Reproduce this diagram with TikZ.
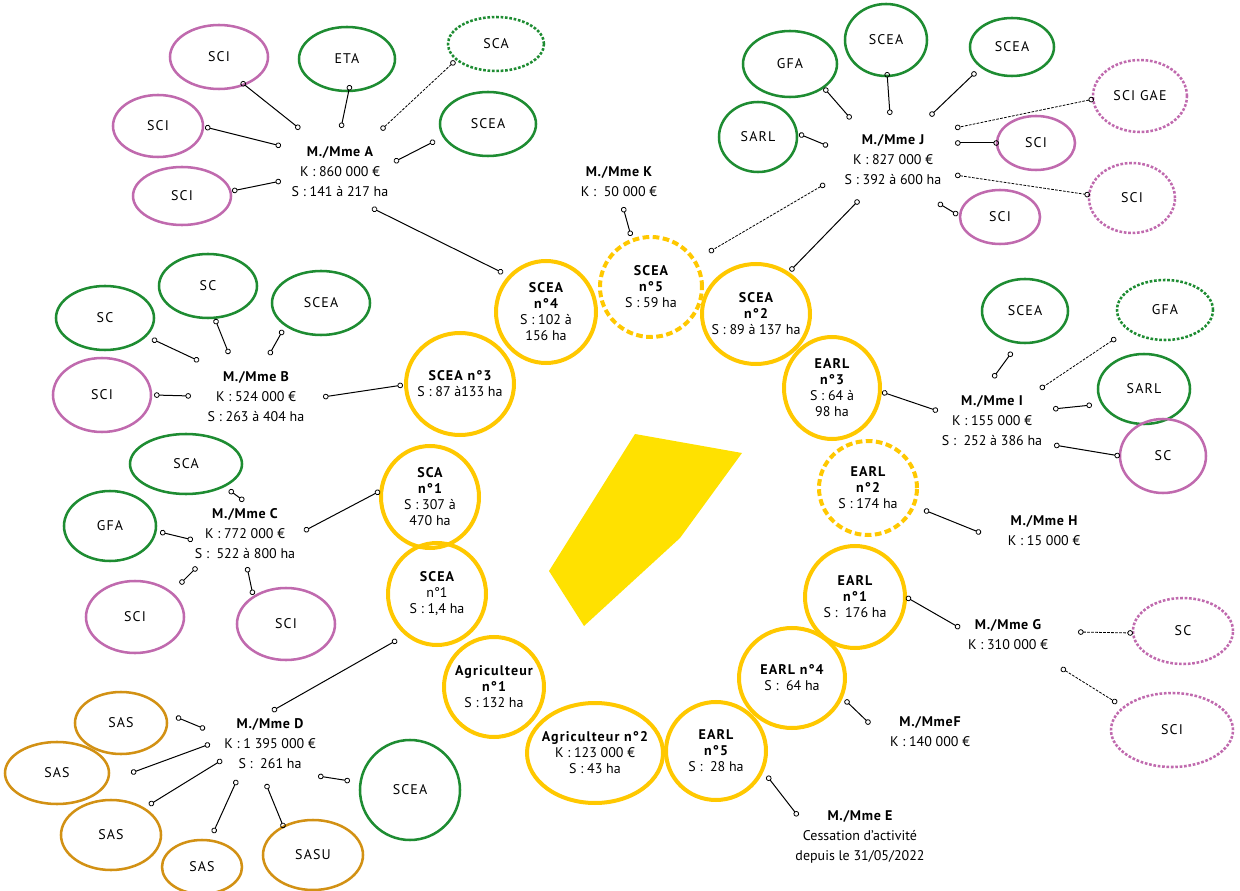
\documentclass[tikz,border=0pt]{standalone}
\usepackage{fontspec}
\setmainfont{PT Sans}
\newfontfamily\lsp[LetterSpace=8]{PT Sans}
\newfontfamily\lspn[LetterSpace=5]{PT Sans}
\usetikzlibrary{shapes.geometric,arrows.meta}
\definecolor{pur}{HTML}{C06AAE}
\definecolor{grn}{HTML}{1E8C32}
\definecolor{och}{HTML}{D29114}
\definecolor{ring}{HTML}{FFC800}
\definecolor{fillyel}{HTML}{FFE100}
\tikzset{
  ent/.style={ellipse, draw, line width=1.9pt, inner xsep=-40pt, inner ysep=-30pt, font=\fontsize{10.5}{12}\lsp},
  entpur/.style={ent, draw=pur},
  entgrn/.style={ent, draw=grn},
  entoch/.style={ent, draw=och},
  dotd/.style={dash pattern=on 2pt off 1.3pt},
  farm/.style={ellipse, draw=ring, line width=3pt, inner xsep=-40pt, inner ysep=-30pt, align=center, font=\fontsize{10.5}{12}\selectfont},
  farmd/.style={farm, dash pattern=on 5pt off 2.6pt},
  owner/.style={align=center, font=\fontsize{10.5}{15}\selectfont, inner sep=0pt},
  conn/.style={line width=0.75pt, {Circle[open,length=4.2pt,width=4.2pt,line width=0.6pt]}-{Circle[open,length=4.2pt,width=4.2pt,line width=0.6pt]}},
  connd/.style={line width=0.6pt, dash pattern=on 2pt off 1pt},
}
\newcommand\ent[7]{\node[#6,minimum width={1.5pt*#4},minimum height={1.5pt*#5}] (#1) at (#2,#3) {#7};}
\newcommand\lnk[4][]{\coordinate (#2s) at (#3); \coordinate (#2e) at (#4); \draw[conn,#1] (#2s) -- (#2e);}
\newcommand\hd[1]{{\lsp\bfseries #1}}
\newcommand\on[1]{{\lspn\bfseries #1}}
\begin{document}
\begin{tikzpicture}[x=0.75pt,y=-0.75pt]
\useasboundingbox (0,0) rectangle (1240,891);
% central parcel
\fill[fillyel] (635,434) -- (742,453) -- (680,538) -- (584,626) -- (549,571) -- cycle;

% farms (yellow rings)
\ent{scea4}{546}{312}{50}{51}{farm}{\hd{SCEA}\\\hd{n°4}\\S : 102 à\\156 ha}
\ent{scea5}{651}{287}{51}{50}{farmd}{\hd{SCEA}\\\hd{n°5}\\S : 59 ha}
\ent{scea2}{756}{314}{54}{50}{farm}{\hd{SCEA}\\\hd{n°2}\\S : 89 à 137 ha}
\ent{earl3}{832}{388}{48}{51}{farm}{\hd{EARL}\\\hd{n°3}\\S : 64 à\\98 ha}
\ent{earl2}{868}{488}{49}{47}{farmd}{\hd{EARL}\\\hd{n°2}\\S : 174 ha}
\ent{earl1}{855}{597}{50}{51}{farm}{\hd{EARL}\\\hd{n°1}\\S :\ \ 176 ha}
\ent{earl4}{792}{678}{53}{50}{farm}{\hd{EARL n°4}\\S :\ \ 64 ha}
\ent{earl5}{716}{751}{50}{49}{farm}{\hd{EARL}\\\hd{n°5}\\S :\ \ 28 ha}
\ent{agri2}{595}{753}{68}{50}{farm}{\hd{Agriculteur n°2}\\K : 123 000 €\\S : 43 ha}
\ent{agri1}{494}{687}{50}{50}{farm}{\hd{Agriculteur}\\\hd{n°1}\\S : 132 ha}
\ent{scea1}{437}{594}{49}{51}{farm}{\hd{SCEA}\\n°1\\S : 1,4 ha}
\ent{sca1}{430}{497}{49}{51}{farm}{\hd{SCA}\\\hd{n°1}\\S : 307 à\\470 ha}
\ent{scea3}{460}{384}{54}{51}{farm}{\hd{SCEA n°3}\\S : 87 à133 ha}

% owners
\node[owner] (ownA) at (340,172) {\on{M./Mme A}\\K : 860 000 €\\S : 141 à 217 ha};
\node[owner] (ownK) at (619,182) {\on{M./Mme K}\\K :\ \ 50 000 €};
\node[owner] (ownJ) at (893,160) {\on{M./Mme J}\\K : 827 000 €\\S : 392 à 600 ha};
\node[owner] (ownB) at (256,397) {\on{M./Mme B}\\K : 524 000 €\\S : 263 à 404 ha};
\node[owner] (ownC) at (245,534) {\on{M./Mme C}\\K : 772 000 €\\S :\ \ 522 à 800 ha};
\node[owner] (ownD) at (270,744) {\on{M./Mme D}\\K : 1 395 000 €\\S :\ \ 261 ha};
\node[owner] (ownI) at (992,421) {\on{M./Mme I}\\K : 155 000 €\\S :\ \ 252 à 386 ha};
\node[owner] (ownH) at (1044,531) {\on{M./Mme H}\\K : 15 000 €};
\node[owner] (ownG) at (1008,635) {\on{M./Mme G}\\K : 310 000 €};
\node[owner] (ownF) at (930,732) {\on{M./MmeF}\\K : 140 000 €};
\node[owner] (ownE) at (860,837) {\on{M./Mme E}\\Cessation d’activité\\depuis le 31/05/2022};

% entities A
\ent{sciA1}{219}{57}{49}{32}{entpur}{SCI}
\ent{etaA}{347}{59}{48}{32}{entgrn}{ETA}
\ent{scaA}{496}{44}{48}{27}{entgrn,dotd}{SCA}
\ent{sciA2}{158}{126}{45}{31}{entpur}{SCI}
\ent{sceaA}{488}{124}{48}{32}{entgrn}{SCEA}
\ent{sciA3}{182}{196}{49}{29}{entpur}{SCI}
% entities J
\ent{gfaJ}{790}{64}{47}{33}{entgrn}{GFA}
\ent{sceaJ1}{886}{40}{41}{36}{entgrn}{SCEA}
\ent{sceaJ2}{1012}{47}{42}{29}{entgrn}{SCEA}
\ent{sarlJ}{758}{137}{39}{35}{entgrn}{SARL}
\ent{scigaeJ}{1140}{96}{47}{36}{entpur,dotd}{SCI GAE}
\ent{sciJ1}{1036}{143}{39}{27}{entpur}{SCI}
\ent{sciJ2}{1132}{198}{43}{35}{entpur,dotd}{SCI}
\ent{sciJ3}{1000}{217}{40}{27}{entpur}{SCI}
% entities B
\ent{scB1}{208}{286}{49}{32}{entgrn}{SC}
\ent{scB2}{105}{318}{49}{32}{entgrn}{SC}
\ent{sceaB}{321}{303}{49}{32}{entgrn}{SCEA}
\ent{sciB}{102}{395}{49}{37}{entpur}{SCI}
% entities C
\ent{scaC}{186}{464}{56}{30}{entgrn}{SCA}
\ent{gfaC}{110}{526}{46}{35}{entgrn}{GFA}
\ent{sciC1}{135}{617}{49}{36}{entpur}{SCI}
\ent{sciC2}{286}{624}{49}{36}{entpur}{SCI}
% entities D
\ent{sasD1}{121}{723}{46}{31}{entoch}{SAS}
\ent{sasD2}{57}{773}{52}{31}{entoch}{SAS}
\ent{sasD3}{111}{835}{50}{35}{entoch}{SAS}
\ent{sasD4}{202}{867}{40}{27}{entoch}{SAS}
\ent{sasuD}{313}{855}{50}{35}{entoch}{SASU}
\ent{sceaD}{410}{790}{50}{50}{entgrn}{SCEA}
% entities I
\ent{sceaI}{1025}{311}{43}{32}{entgrn}{SCEA}
\ent{gfaI}{1165}{310}{48}{30}{entgrn,dotd}{GFA}
\ent{sarlI}{1144}{389}{46}{35}{entgrn}{SARL}
\ent{scI}{1163}{456}{43}{37}{entpur}{SC}
% entities G
\ent{scG}{1183}{631}{50}{33}{entpur,dotd}{SC}
\ent{sciG}{1172}{730}{61}{37}{entpur,dotd}{SCI}

% connectors A
\lnk{la1}{241,82}{300,129}
\lnk{la2}{350,85}{341,128}
\lnk[connd]{la3}{455,61}{381,130}
\lnk{la4}{205,127}{281,146}
\lnk{la5}{435,141}{394,162}
\lnk{la6}{232,191}{281,181}
\lnk{la7}{372,208}{503,273}
% K
\lnk{lk1}{623,207}{631,236}
% J
\lnk{lj1}{824,88}{851,119}
\lnk{lj2}{887,72}{890,115}
\lnk{lj3}{976,72}{930,116}
\lnk{lj4}{799,134}{828,146}
\lnk[connd]{lj5}{1094,99}{955,128}
\lnk{lj6}{955,143}{999,143}
\lnk[connd]{lj7}{955,175}{1090,195}
\lnk{lj8}{938,203}{958,215}
\lnk[connd]{lj9}{825,184}{709,252}
\lnk{lj10}{859,200}{790,271}
% B
\lnk{lb1}{152,339}{199,361}
\lnk{lb2}{215,319}{229,354}
\lnk{lb3}{283,330}{269,355}
\lnk{lb4}{154,395}{191,396}
\lnk{lb5}{323,397}{403,385}
% C
\lnk{lc1}{229,490}{244,501}
\lnk{lc2}{160,532}{193,540}
\lnk{lc3}{180,584}{197,567}
\lnk{lc4}{247,567}{253,595}
\lnk{lc5}{304,531}{380,491}
% D
\lnk{ld1}{176,717}{205,729}
\lnk{ld2}{131,773}{210,744}
\lnk{ld3}{149,805}{222,760}
\lnk{ld4}{213,833}{237,780}
\lnk{ld5}{284,828}{266,784}
\lnk{ld6}{318,776}{350,781}
\lnk{ld7}{272,711}{397,640}
% I
\lnk{li1}{1012,352}{993,378}
\lnk[connd]{li2}{1116,338}{1040,389}
\lnk{li3}{1092,405}{1053,409}
\lnk{li4}{1120,456}{1054,445}
\lnk{li5}{882,392}{938,411}
% H
\lnk{lh1}{924,510}{981,533}
% G
\lnk{lg1}{906,597}{960,628}
\lnk[connd]{lg2}{1078,632}{1133,633}
\lnk[connd]{lg3}{1061,668}{1117,703}
% F
\lnk{lf1}{845,700}{870,724}
% E
\lnk{le1}{767,776}{798,816}
\end{tikzpicture}
\end{document}
